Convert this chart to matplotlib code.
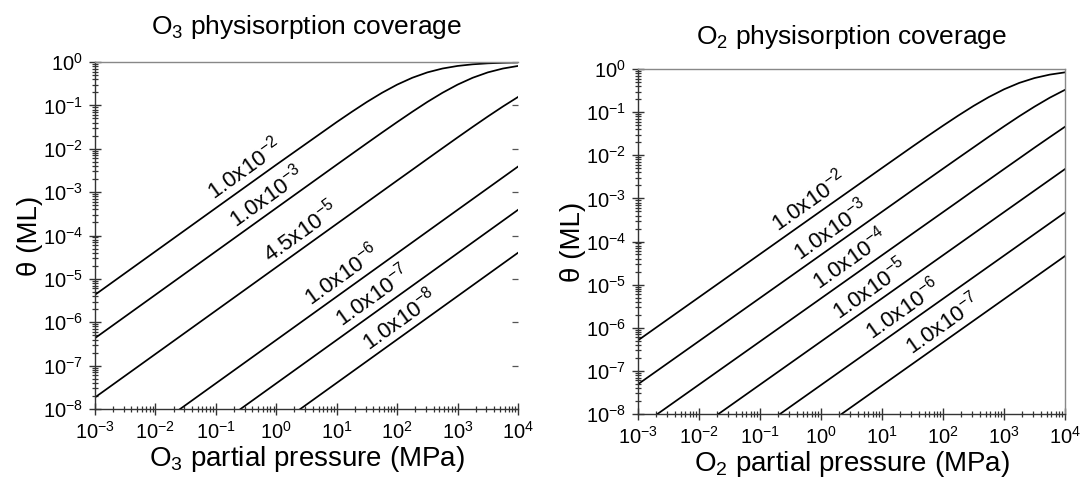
import numpy as np
import matplotlib
matplotlib.use("Agg")
import matplotlib.pyplot as plt
from matplotlib.ticker import LogLocator, NullFormatter, LogFormatterSciNotation

plt.rcParams["font.family"] = ["Liberation Sans", "DejaVu Sans"]
plt.rcParams["mathtext.fontset"] = "custom"
plt.rcParams["mathtext.rm"] = "Liberation Sans"
plt.rcParams["mathtext.it"] = "Liberation Sans"
plt.rcParams["mathtext.default"] = "regular"
plt.rcParams["axes.unicode_minus"] = False

# pressure grids (MPa): decades, and a finer grid for the saturating curves
pressure_decades = [1e-3, 1e-2, 1e-1, 1e0, 1e1, 1e2, 1e3, 1e4]
pressure_fine = [1e-3, 1e-2, 1e-1, 1e0, 1e1, 17.8, 31.6, 56.2, 1e2, 178.0, 316.0,
                 562.0, 1e3, 1778.0, 3162.0, 5623.0, 1e4]

# O3 coverage (ML)
o3_k_1e2 = [4.3e-6, 4.3e-5, 4.3e-4, 4.28e-3, 4.12e-2, 7.11e-2, 0.120, 0.195, 0.301,
            0.433, 0.576, 0.707, 0.811, 0.884, 0.932, 0.960, 0.977]
o3_k_1e3 = [4.3e-7, 4.3e-6, 4.3e-5, 4.3e-4, 4.28e-3, 7.59e-3, 1.34e-2, 2.36e-2, 4.12e-2,
            7.11e-2, 0.120, 0.195, 0.301, 0.433, 0.576, 0.707, 0.811]
o3_k_45e5 = [1.85e-8, 1.85e-7, 1.85e-6, 1.85e-5, 1.85e-4, 3.29e-4, 5.85e-4, 1.04e-3,
             1.85e-3, 3.28e-3, 5.82e-3, 1.03e-2, 1.82e-2, 3.19e-2, 5.53e-2, 9.42e-2, 0.156]
o3_k_1e6 = [3.9e-10, 3.9e-9, 3.9e-8, 3.9e-7, 3.9e-6, 3.9e-5, 3.9e-4, 3.88e-3]
o3_k_1e7 = [3.9e-11, 3.9e-10, 3.9e-9, 3.9e-8, 3.9e-7, 3.9e-6, 3.9e-5, 3.9e-4]
o3_k_1e8 = [4.0e-12, 4.0e-11, 4.0e-10, 4.0e-9, 4.0e-8, 4.0e-7, 4.0e-6, 4.0e-5]

o3_series = [(pressure_fine, o3_k_1e2), (pressure_fine, o3_k_1e3), (pressure_fine, o3_k_45e5),
             (pressure_decades, o3_k_1e6), (pressure_decades, o3_k_1e7),
             (pressure_decades, o3_k_1e8)]
o3_labels = [r"1.0x10$^{-2}$", r"1.0x10$^{-3}$", r"4.5x10$^{-5}$",
             r"1.0x10$^{-6}$", r"1.0x10$^{-7}$", r"1.0x10$^{-8}$"]
o3_label_p = [0.295, 0.676, 2.45, 11.7, 38.0, 108.0]
o3_label_theta = [3.4e-3, 7.8e-4, 1.25e-4, 1.25e-5, 4.05e-6, 1.17e-6]

# O2 coverage (ML)
o2_k_1e2 = [5.1e-7, 5.1e-6, 5.1e-5, 5.1e-4, 5.07e-3, 8.99e-3, 1.59e-2, 2.79e-2, 4.85e-2,
            8.32e-2, 0.139, 0.223, 0.338, 0.476, 0.617, 0.741, 0.836]
o2_k_1e3 = [4.9e-8, 4.9e-7, 4.9e-6, 4.9e-5, 4.9e-4, 8.72e-4, 1.55e-3, 2.75e-3, 4.88e-3,
            8.64e-3, 1.52e-2, 2.68e-2, 4.67e-2, 8.02e-2, 0.134, 0.216, 0.329]
o2_k_1e4 = [4.8e-9, 4.8e-8, 4.8e-7, 4.8e-6, 4.8e-5, 8.54e-5, 1.52e-4, 2.70e-4, 4.8e-4,
            8.53e-4, 1.52e-3, 2.69e-3, 4.78e-3, 8.46e-3, 1.50e-2, 2.63e-2, 4.58e-2]
o2_k_1e5 = [4.8e-10, 4.8e-9, 4.8e-8, 4.8e-7, 4.8e-6, 4.8e-5, 4.8e-4, 4.78e-3]
o2_k_1e6 = [4.7e-11, 4.7e-10, 4.7e-9, 4.7e-8, 4.7e-7, 4.7e-6, 4.7e-5, 4.7e-4]
o2_k_1e7 = [4.6e-12, 4.6e-11, 4.6e-10, 4.6e-9, 4.6e-8, 4.6e-7, 4.6e-6, 4.6e-5]

o2_series = [(pressure_fine, o2_k_1e2), (pressure_fine, o2_k_1e3), (pressure_fine, o2_k_1e4),
             (pressure_decades, o2_k_1e5), (pressure_decades, o2_k_1e6),
             (pressure_decades, o2_k_1e7)]
o2_labels = [r"1.0x10$^{-2}$", r"1.0x10$^{-3}$", r"1.0x10$^{-4}$",
             r"1.0x10$^{-5}$", r"1.0x10$^{-6}$", r"1.0x10$^{-7}$"]
o2_label_p = [0.635, 1.41, 2.99, 6.35, 21.9, 98.0]
o2_label_theta = [8.8e-4, 1.85e-4, 3.9e-5, 8.1e-6, 2.75e-6, 1.2e-6]

fig = plt.figure(figsize=(10.86, 4.79), dpi=100)
W, H = 1086, 479


def add_panel(rect_px, series, labels, lab_p, lab_t, title, xlabel, right_spine, title_pad):
    x0, y0, x1, y1 = rect_px
    ax = fig.add_axes([x0 / W, 1 - y1 / H, (x1 - x0) / W, (y1 - y0) / H])
    ax.set_xscale("log")
    ax.set_yscale("log")
    ax.set_xlim(1e-3, 1e4)
    ax.set_ylim(1e-8, 1e0)
    for px, ys in series:
        ax.plot(px, ys, color="black", lw=1.25, solid_joinstyle="round")

    ax.xaxis.set_major_locator(LogLocator(base=10, numticks=20))
    ax.xaxis.set_minor_locator(LogLocator(base=10, subs=np.arange(2, 10), numticks=100))
    ax.yaxis.set_major_locator(LogLocator(base=10, numticks=20))
    ax.yaxis.set_minor_locator(LogLocator(base=10, subs=np.arange(2, 10), numticks=100))
    ax.xaxis.set_major_formatter(LogFormatterSciNotation())
    ax.yaxis.set_major_formatter(LogFormatterSciNotation())
    ax.xaxis.set_minor_formatter(NullFormatter())
    ax.yaxis.set_minor_formatter(NullFormatter())

    ax.tick_params(which="major", direction="inout", length=9, width=1.0,
                   labelsize=14.5, color="#333333", pad=4)
    ax.tick_params(which="minor", direction="inout", length=5, width=0.9, color="#333333")
    ax.tick_params(axis="y", which="both", left=True, right=False)
    ax.tick_params(axis="x", which="both", top=False)

    for side in ("left", "bottom"):
        ax.spines[side].set_color("#333333")
        ax.spines[side].set_linewidth(1.0)
    ax.spines["top"].set_color("#888888")
    ax.spines["top"].set_linewidth(1.0)
    if right_spine:
        ax.spines["right"].set_color("#888888")
        ax.spines["right"].set_linewidth(1.0)
    else:
        ax.spines["right"].set_visible(False)
        # short inward marks at the decades on the right edge
        sec = ax.secondary_yaxis("right")
        sec.yaxis.set_major_locator(LogLocator(base=10, numticks=20))
        sec.yaxis.set_minor_locator(LogLocator(base=10, subs=[], numticks=20))
        sec.tick_params(which="major", direction="in", length=4, width=0.9,
                        color="#555555", labelright=False)
        sec.spines["right"].set_visible(False)

    ax.set_title(title, fontsize=19, pad=title_pad)
    ax.set_xlabel(xlabel, fontsize=20, labelpad=1)
    ax.set_ylabel("θ (ML)", fontsize=20, labelpad=0)

    # text angle that follows a line of unit slope in log-log space
    p_a = ax.transData.transform((1e-1, 1e-5))
    p_b = ax.transData.transform((1e1, 1e-3))
    angle = np.degrees(np.arctan2(p_b[1] - p_a[1], p_b[0] - p_a[0]))
    for txt, px, py in zip(labels, lab_p, lab_t):
        ax.text(px, py, txt, fontsize=16, rotation=angle, rotation_mode="anchor",
                ha="center", va="center")
    return ax


add_panel((95, 62, 518, 409), o3_series, o3_labels, o3_label_p, o3_label_theta,
          r"O$_3$ physisorption coverage", r"O$_3$ partial pressure (MPa)", False, 20)
add_panel((638, 69, 1065, 414), o2_series, o2_labels, o2_label_p, o2_label_theta,
          r"O$_2$ physisorption coverage", r"O$_2$ partial pressure (MPa)", True, 18)

fig.savefig("out.png", dpi=100)
